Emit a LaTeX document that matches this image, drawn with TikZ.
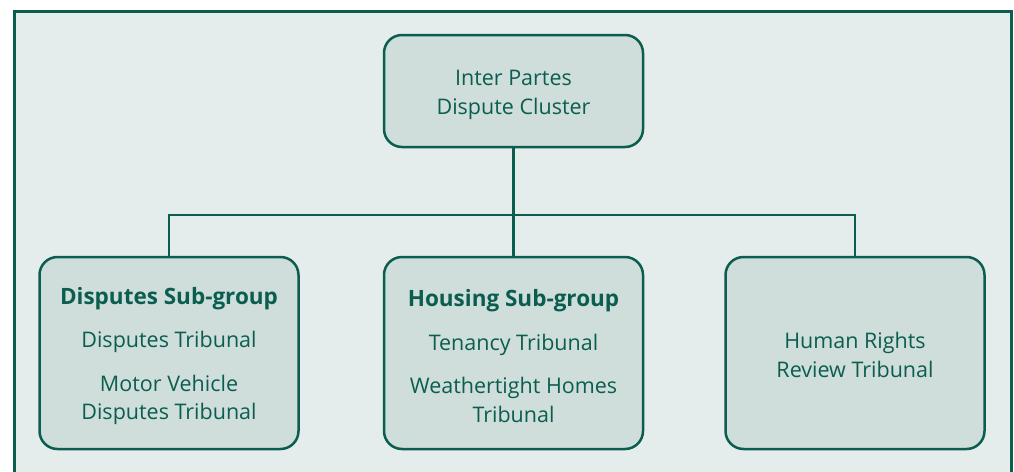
\documentclass[tikz,border=0pt]{standalone}
\usepackage{fontspec}
\setmainfont{Open Sans}
\usepackage{xcolor}
\definecolor{darkgreen}{HTML}{0B5E4F}
\definecolor{panelfill}{HTML}{E4EDEB}
\definecolor{boxfill}{HTML}{CFDEDA}
\usetikzlibrary{positioning}

\tikzset{
	unitbox/.style={draw=darkgreen, line width=2.5pt, fill=boxfill, rounded corners=18pt,
		minimum width=259pt, minimum height=112pt, inner sep=0pt},
	groupbox/.style={unitbox, minimum height=192pt},
	boxtext/.style={align=center, text=darkgreen, inner sep=0pt,
		font=\fontsize{21.5}{28.5}\selectfont},
	link/.style={darkgreen, line width=2.8pt}
}
\newcommand{\subhead}[1]{{\fontsize{22.5}{28.5}\selectfont\textbf{#1}}}

\begin{document}
\begin{tikzpicture}[x=1pt, y=-1pt]

\useasboundingbox (0,0) rectangle (1014,471);
\clip (0,0) rectangle (1014,471);

% panel
\draw[darkgreen, line width=3pt, fill=panelfill] (14.5,11) rectangle (1011.5,490);

% boxes
\node[unitbox] (cluster) at (513.5,91) {};
\node[groupbox] (disputes) at (169,353) {};
\node[groupbox] (housing) at (513.5,353) {};
\node[groupbox] (rights) at (855,353) {};

% box texts
\node[boxtext] (cluster text) at ([yshift=-4pt]cluster.center) {Inter Partes\\Dispute Cluster};
\node[boxtext] (disputes text) at ([yshift=-3pt]disputes.center) {\subhead{Disputes Sub-group}\\[15pt]Disputes Tribunal\\[15pt]Motor Vehicle\\Disputes Tribunal};
\node[boxtext] (housing text) at ([yshift=-3pt]housing.center) {\subhead{Housing Sub-group}\\[15pt]Tenancy Tribunal\\[15pt]Weathertight Homes\\Tribunal};
\node[boxtext] (rights text) at ([yshift=-2pt]rights.center) {Human Rights\\Review Tribunal};

% connectors
\coordinate (bus) at (513.5,215);
\draw[link] (cluster.south) -- (housing.north);
\draw[link] (disputes.north) |- (bus) -| (rights.north);

\end{tikzpicture}
\end{document}
